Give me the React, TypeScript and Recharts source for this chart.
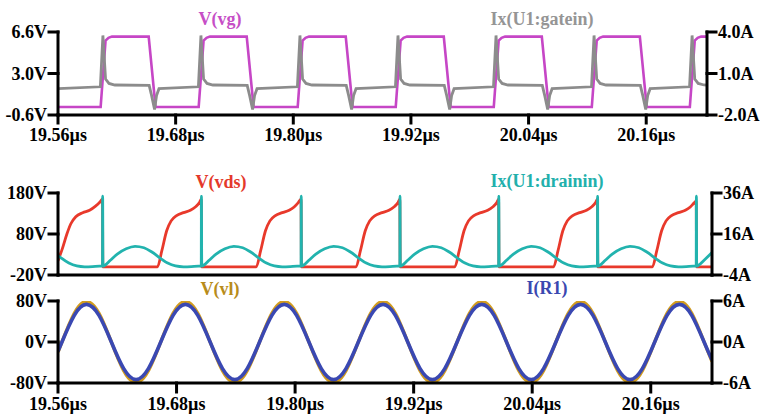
import React from 'react';
import { LineChart, Line, XAxis, YAxis } from 'recharts';

// time axis, µs
const timeDomain = [19.56, 20.222];
const timeTicks = [19.56, 19.68, 19.8, 19.92, 20.04, 20.16];

const gateVoltTicks = [-0.6, 3.0, 6.6];
const gateAmpTicks = [-2, 1, 4];
const drainVoltTicks = [-20, 80, 180];
const drainAmpTicks = [-4, 16, 36];
const loadVoltTicks = [-80, 0, 80];
const loadAmpTicks = [-6, 0, 6];

// [t (µs), V] gate drive voltage
const vgWave = [
  [19.56, 0.1],
  [19.6035, 0.1], [19.6085, 5.85], [19.6115, 6.1], [19.615, 6.2], [19.6525, 6.2], [19.6595, 0.1],
  [19.7035, 0.1], [19.7085, 5.85], [19.7115, 6.1], [19.715, 6.2], [19.7525, 6.2], [19.7595, 0.1],
  [19.8045, 0.1], [19.8095, 5.85], [19.8125, 6.1], [19.816, 6.2], [19.8535, 6.2], [19.8605, 0.1],
  [19.9045, 0.1], [19.9095, 5.85], [19.9125, 6.1], [19.916, 6.2], [19.9535, 6.2], [19.9605, 0.1],
  [20.0045, 0.1], [20.0095, 5.85], [20.0125, 6.1], [20.016, 6.2], [20.0535, 6.2], [20.0605, 0.1],
  [20.1045, 0.1], [20.1095, 5.85], [20.1125, 6.1], [20.116, 6.2], [20.1535, 6.2], [20.1605, 0.1],
  [20.2045, 0.1], [20.2095, 5.85], [20.2125, 6.1], [20.216, 6.2], [20.222, 6.2],
];

// [t (µs), A] gate current
const gateinWave = [
  [19.56, -0.1],
  [19.6032, 0.04], [19.6058, 3.75], [19.6085, 0.6], [19.612, 0.28], [19.618, 0.17], [19.653, 0.14], [19.6555, -0.6], [19.6585, -1.6], [19.6605, -0.6], [19.663, -0.1],
  [19.7032, 0.04], [19.7058, 3.75], [19.7085, 0.6], [19.712, 0.28], [19.718, 0.17], [19.753, 0.14], [19.7555, -0.6], [19.7585, -1.6], [19.7605, -0.6], [19.763, -0.1],
  [19.8042, 0.04], [19.8068, 3.75], [19.8095, 0.6], [19.813, 0.28], [19.819, 0.17], [19.854, 0.14], [19.8565, -0.6], [19.8595, -1.6], [19.8615, -0.6], [19.864, -0.1],
  [19.9042, 0.04], [19.9068, 3.75], [19.9095, 0.6], [19.913, 0.28], [19.919, 0.17], [19.954, 0.14], [19.9565, -0.6], [19.9595, -1.6], [19.9615, -0.6], [19.964, -0.1],
  [20.0042, 0.04], [20.0068, 3.75], [20.0095, 0.6], [20.013, 0.28], [20.019, 0.17], [20.054, 0.14], [20.0565, -0.6], [20.0595, -1.6], [20.0615, -0.6], [20.064, -0.1],
  [20.1042, 0.04], [20.1068, 3.75], [20.1095, 0.6], [20.113, 0.28], [20.119, 0.17], [20.154, 0.14], [20.1565, -0.6], [20.1595, -1.6], [20.1615, -0.6], [20.164, -0.1],
  [20.2042, 0.04], [20.2068, 3.75], [20.2095, 0.6], [20.213, 0.28], [20.219, 0.17], [20.222, 0.16],
];

// [t (µs), V] drain-source voltage
const vdsWave = [
  [19.56, 15], [19.5645, 45], [19.569, 80], [19.573, 105], [19.578, 122], [19.585, 132], [19.592, 138], [19.598, 148], [19.6025, 158], [19.605, 165],
  [19.6054, 0], [19.6607, 0], [19.665, 38], [19.67, 88], [19.6745, 112], [19.68, 125], [19.687, 132], [19.694, 138], [19.699, 146], [19.703, 156], [19.705, 165],
  [19.7054, 0], [19.7607, 0], [19.765, 38], [19.77, 88], [19.7745, 112], [19.78, 125], [19.787, 132], [19.794, 138], [19.799, 146], [19.803, 156], [19.806, 165],
  [19.8064, 0], [19.8617, 0], [19.866, 38], [19.871, 88], [19.8755, 112], [19.881, 125], [19.888, 132], [19.895, 138], [19.9, 146], [19.904, 156], [19.906, 165],
  [19.9064, 0], [19.9617, 0], [19.966, 38], [19.971, 88], [19.9755, 112], [19.981, 125], [19.988, 132], [19.995, 138], [20.0, 146], [20.004, 156], [20.006, 165],
  [20.0064, 0], [20.0617, 0], [20.066, 38], [20.071, 88], [20.0755, 112], [20.081, 125], [20.088, 132], [20.095, 138], [20.1, 146], [20.104, 156], [20.106, 165],
  [20.1064, 0], [20.1617, 0], [20.166, 38], [20.171, 88], [20.1755, 112], [20.181, 125], [20.188, 132], [20.195, 138], [20.2, 146], [20.204, 156], [20.206, 160],
  [20.2064, 0], [20.222, 0],
];

// [t (µs), A] drain current
const drainWave = [
  [19.56, 5.5], [19.563, 4.4], [19.571, 1.8], [19.579, 0.4], [19.587, 0.0], [19.595, 0.1], [19.602, 0.3],
  [19.605, 0.3], [19.6052, 34.5], [19.6055, 0.3], [19.607, 0.6], [19.613, 3.2], [19.62, 6.2], [19.629, 8.8], [19.638, 10.0], [19.647, 9.3], [19.655, 7.2], [19.663, 4.4], [19.671, 1.8], [19.679, 0.4], [19.687, 0.0], [19.695, 0.1], [19.702, 0.3],
  [19.705, 0.3], [19.7052, 34.5], [19.7055, 0.3], [19.707, 0.6], [19.713, 3.2], [19.72, 6.2], [19.729, 8.8], [19.738, 10.0], [19.747, 9.3], [19.755, 7.2], [19.763, 4.4], [19.771, 1.8], [19.779, 0.4], [19.787, 0.0], [19.795, 0.1], [19.802, 0.3],
  [19.806, 0.3], [19.8062, 34.5], [19.8065, 0.3], [19.808, 0.6], [19.814, 3.2], [19.821, 6.2], [19.83, 8.8], [19.839, 10.0], [19.848, 9.3], [19.856, 7.2], [19.864, 4.4], [19.872, 1.8], [19.88, 0.4], [19.888, 0.0], [19.896, 0.1], [19.903, 0.3],
  [19.906, 0.3], [19.9062, 34.5], [19.9065, 0.3], [19.908, 0.6], [19.914, 3.2], [19.921, 6.2], [19.93, 8.8], [19.939, 10.0], [19.948, 9.3], [19.956, 7.2], [19.964, 4.4], [19.972, 1.8], [19.98, 0.4], [19.988, 0.0], [19.996, 0.1], [20.003, 0.3],
  [20.006, 0.3], [20.0062, 34.5], [20.0065, 0.3], [20.008, 0.6], [20.014, 3.2], [20.021, 6.2], [20.03, 8.8], [20.039, 10.0], [20.048, 9.3], [20.056, 7.2], [20.064, 4.4], [20.072, 1.8], [20.08, 0.4], [20.088, 0.0], [20.096, 0.1], [20.103, 0.3],
  [20.106, 0.3], [20.1062, 34.5], [20.1065, 0.3], [20.108, 0.6], [20.114, 3.2], [20.121, 6.2], [20.13, 8.8], [20.139, 10.0], [20.148, 9.3], [20.156, 7.2], [20.164, 4.4], [20.172, 1.8], [20.18, 0.4], [20.188, 0.0], [20.196, 0.1], [20.203, 0.3],
  [20.206, 0.3], [20.2062, 34.5], [20.2065, 0.3], [20.208, 0.6], [20.214, 3.2], [20.222, 7.0],
];

// load voltage / load current samples
const sineTime = [
  19.56, 19.564, 19.5765, 19.589, 19.6015, 19.614, 19.6265, 19.639, 19.6515,
  19.664, 19.6765, 19.689, 19.7015, 19.714, 19.7265, 19.739, 19.7515,
  19.764, 19.7765, 19.789, 19.8015, 19.814, 19.8265, 19.839, 19.8515,
  19.864, 19.8765, 19.889, 19.9015, 19.914, 19.9265, 19.939, 19.9515,
  19.964, 19.9765, 19.989, 20.0015, 20.014, 20.0265, 20.039, 20.0515,
  20.064, 20.0765, 20.089, 20.1015, 20.114, 20.1265, 20.139, 20.1515,
  20.164, 20.1765, 20.189, 20.2015, 20.214, 20.222,
];
const vlVolts = [
  -19.6,
  0, 56, 79, 56, 0, -56, -79, -56,
  0, 56, 79, 56, 0, -56, -79, -56,
  0, 56, 79, 56, 0, -56, -79, -56,
  0, 56, 79, 56, 0, -56, -79, -56,
  0, 56, 79, 56, 0, -56, -79, -56,
  0, 56, 79, 56, 0, -56, -79, -56,
  0, 56, 79, 56, 0,
  -38,
];
const r1Amps = [
  -1.37,
  0, 3.9, 5.5, 3.9, 0, -3.9, -5.5, -3.9,
  0, 3.9, 5.5, 3.9, 0, -3.9, -5.5, -3.9,
  0, 3.9, 5.5, 3.9, 0, -3.9, -5.5, -3.9,
  0, 3.9, 5.5, 3.9, 0, -3.9, -5.5, -3.9,
  0, 3.9, 5.5, 3.9, 0, -3.9, -5.5, -3.9,
  0, 3.9, 5.5, 3.9, 0, -3.9, -5.5, -3.9,
  0, 3.9, 5.5, 3.9, 0,
  -2.65,
];

const toRows = (pts: number[][]) => pts.map(([t, v]) => ({ t, v }));
const loadRows = sineTime.map((t, i) => ({ t, vl: vlVolts[i], ir: r1Amps[i] }));

const FONT = '"Liberation Serif", "Times New Roman", Times, serif';
const tickFont = { fontFamily: FONT, fontSize: 18, fontWeight: 700, fill: '#000' };
const axisStroke = { stroke: '#000', strokeWidth: 3, strokeLinecap: 'square' as const };
const fmtTime = (v: number) => `${v.toFixed(2)}µs`;

// frame line along the top of a panel
const topFrame = (
  <XAxis xAxisId="frame" orientation="top" type="number" domain={timeDomain} allowDataOverflow
    tick={false} tickLine={false} axisLine={axisStroke} height={0} />
);

const labelStyle = (left: number, top: number, height: number, color: string): React.CSSProperties => ({
  position: 'absolute',
  left,
  top,
  height,
  transform: 'translateX(-50%)',
  background: '#fff',
  color,
  fontFamily: FONT,
  fontWeight: 700,
  fontSize: 18,
  lineHeight: '18px',
  whiteSpace: 'nowrap',
  padding: '0 1px',
});

export default function App() {
  return (
    <div style={{ position: 'fixed', left: 0, top: 0, width: 762, height: 418, background: '#fff' }}>
      {/* gate drive */}
      <div style={{ position: 'absolute', left: 0, top: 0 }}>
        <LineChart width={762} height={145} margin={{ top: 32, right: 0, bottom: 0, left: 0 }}>
          <XAxis dataKey="t" type="number" domain={timeDomain} ticks={timeTicks} interval={0} allowDataOverflow
            tickFormatter={fmtTime} tick={tickFont} tickSize={8} tickMargin={5}
            axisLine={axisStroke} tickLine={axisStroke} height={30} />
          {topFrame}
          <YAxis yAxisId="l" domain={[-0.6, 6.6]} ticks={gateVoltTicks} interval={0} allowDataOverflow
            tickFormatter={(v: number) => `${v.toFixed(1)}V`} tick={tickFont} tickSize={9} tickMargin={2}
            axisLine={axisStroke} tickLine={axisStroke} width={58} />
          <YAxis yAxisId="r" orientation="right" domain={[-2, 4]} ticks={gateAmpTicks} interval={0} allowDataOverflow
            tickFormatter={(v: number) => `${v.toFixed(1)}A`} tick={tickFont} tickSize={9} tickMargin={2}
            axisLine={axisStroke} tickLine={axisStroke} width={55} />
          <Line yAxisId="l" data={toRows(vgWave)} dataKey="v" type="linear" stroke="#c646c6" strokeWidth={2.6}
            dot={false} activeDot={false} isAnimationActive={false} />
          <Line yAxisId="r" data={toRows(gateinWave)} dataKey="v" type="linear" stroke="#8c8c8c" strokeWidth={2.8}
            dot={false} activeDot={false} isAnimationActive={false} />
        </LineChart>
      </div>

      {/* drain */}
      <div style={{ position: 'absolute', left: 0, top: 161 }}>
        <LineChart width={762} height={127} margin={{ top: 32, right: 0, bottom: 0, left: 0 }}>
          <XAxis dataKey="t" type="number" domain={timeDomain} ticks={timeTicks} allowDataOverflow
            tick={false} tickLine={false} axisLine={axisStroke} height={13} />
          {topFrame}
          <YAxis yAxisId="l" domain={[-20, 180]} ticks={drainVoltTicks} interval={0} allowDataOverflow
            tickFormatter={(v: number) => `${v}V`} tick={tickFont} tickSize={9} tickMargin={2}
            axisLine={axisStroke} tickLine={axisStroke} width={58} />
          <YAxis yAxisId="r" orientation="right" domain={[-4, 36]} ticks={drainAmpTicks} interval={0} allowDataOverflow
            tickFormatter={(v: number) => `${v}A`} tick={tickFont} tickSize={9} tickMargin={2}
            axisLine={axisStroke} tickLine={axisStroke} width={50} />
          <Line yAxisId="l" data={toRows(vdsWave)} dataKey="v" type="monotone" stroke="#e8392b" strokeWidth={2.8}
            dot={false} activeDot={false} isAnimationActive={false} />
          <Line yAxisId="r" data={toRows(drainWave)} dataKey="v" type="monotone" stroke="#22b3ae" strokeWidth={2.8}
            dot={false} activeDot={false} isAnimationActive={false} />
        </LineChart>
      </div>

      {/* load */}
      <div style={{ position: 'absolute', left: 0, top: 269 }}>
        <LineChart width={762} height={149} data={loadRows} margin={{ top: 32, right: 0, bottom: 0, left: 0 }}>
          <XAxis dataKey="t" type="number" domain={timeDomain} ticks={timeTicks} interval={0} allowDataOverflow
            tickFormatter={fmtTime} tick={tickFont} tickSize={9} tickMargin={5}
            axisLine={axisStroke} tickLine={axisStroke} height={35} />
          {topFrame}
          <YAxis yAxisId="l" domain={[-80, 80]} ticks={loadVoltTicks} interval={0} allowDataOverflow
            tickFormatter={(v: number) => `${v}V`} tick={tickFont} tickSize={9} tickMargin={2}
            axisLine={axisStroke} tickLine={axisStroke} width={58} />
          <YAxis yAxisId="r" orientation="right" domain={[-6, 6]} ticks={loadAmpTicks} interval={0} allowDataOverflow
            tickFormatter={(v: number) => `${v}A`} tick={tickFont} tickSize={9} tickMargin={2}
            axisLine={axisStroke} tickLine={axisStroke} width={50} />
          <Line yAxisId="l" dataKey="vl" type="natural" stroke="#d29c1e" strokeWidth={3.4}
            dot={false} activeDot={false} isAnimationActive={false} />
          <Line yAxisId="r" dataKey="ir" type="natural" stroke="#3a48b2" strokeWidth={3.6}
            dot={false} activeDot={false} isAnimationActive={false} />
        </LineChart>
      </div>

      {/* trace names sitting on the top frame of each panel */}
      <div style={labelStyle(220, 10, 24, '#c64ec6')}>V(vg)</div>
      <div style={labelStyle(542, 10, 24, '#959595')}>Ix(U1:gatein)</div>
      <div style={labelStyle(221, 173, 22, '#e4392b')}>V(vds)</div>
      <div style={labelStyle(547, 172, 23, '#22b0ac')}>Ix(U1:drainin)</div>
      <div style={labelStyle(220, 280, 23, '#b88c1a')}>V(vl)</div>
      <div style={labelStyle(547, 279, 24, '#3a48b0')}>I(R1)</div>
    </div>
  );
}
